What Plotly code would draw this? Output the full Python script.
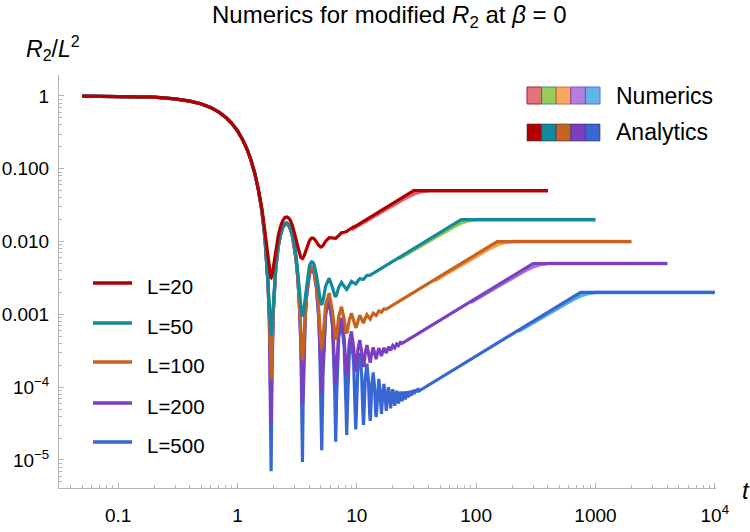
import plotly.graph_objects as go

# ---------------- data ----------------
# shared early part (all L coincide for t <= 1.5)
t_early = [0.05, 0.1, 0.2, 0.3, 0.4, 0.5, 0.6, 0.7, 0.8, 0.9, 1.0, 1.1, 1.2, 1.3, 1.4, 1.5]
r2_early = [0.9975, 0.990, 0.961, 0.913, 0.850, 0.775, 0.690, 0.599, 0.508, 0.418,
            0.333, 0.255, 0.188, 0.131, 0.0857, 0.0511]

t_L20 = [1.6, 1.7, 1.8, 1.85, 1.9, 1.916, 1.95, 2.0, 2.1, 2.2, 2.3, 2.4, 2.5, 2.6, 2.7, 2.8, 2.9,
         3.0, 3.1, 3.2, 3.3, 3.4, 3.508, 3.6, 3.7, 3.8, 3.9, 4.0, 4.1, 4.2, 4.3, 4.4, 4.6, 4.8,
         5.0, 5.087, 5.21, 5.49, 5.87, 6.26, 6.54, 6.662, 6.78, 7.06, 7.45, 7.84, 8.12, 8.235,
         8.64, 9.02, 9.41, 9.808, 30, 400]
r2_L20 = [0.0294, 0.0139, 0.00581, 0.00393, 0.00322, 0.00319, 0.00345, 0.00442, 0.00786, 0.0122,
          0.0162, 0.0195, 0.0214, 0.0217, 0.0209, 0.0190, 0.0163, 0.0135, 0.0108, 0.00855,
          0.00693, 0.00604, 0.00585, 0.00623, 0.00705, 0.00809, 0.00917, 0.0101, 0.0108, 0.0112,
          0.0112, 0.0109, 0.0099, 0.00887, 0.00841, 0.00848, 0.00881, 0.01014, 0.01135, 0.0111,
          0.01096, 0.0111, 0.01136, 0.01224, 0.01319, 0.01341, 0.01356, 0.01373, 0.01465,
          0.01546, 0.01588, 0.01635, 0.05, 0.05]

t_L50 = [1.6, 1.7, 1.8, 1.85, 1.9, 1.916, 1.95, 2.0, 2.1, 2.2, 2.3, 2.4, 2.5, 2.6, 2.7, 2.8, 2.9,
         3.0, 3.1, 3.2, 3.3, 3.4, 3.45, 3.508, 3.55, 3.6, 3.7, 3.8, 3.9, 4.0, 4.1, 4.2, 4.3, 4.4,
         4.6, 4.8, 4.9, 5.0, 5.087, 5.21, 5.49, 5.87, 6.26, 6.54, 6.662, 6.78, 7.06, 7.45, 7.84,
         8.12, 8.235, 8.35, 8.64, 9.02, 9.41, 9.69, 9.808, 10.21, 10.59, 10.98, 11.38, 11.78,
         12.17, 12.55, 12.952, 75, 1000]
r2_L50 = [0.0271, 0.01155, 0.00329, 0.00134, 0.000553, 0.000511, 0.000715, 0.00162, 0.00492,
          0.00909, 0.0130, 0.0161, 0.0179, 0.0181, 0.0171, 0.0151, 0.0123, 0.0093, 0.00648,
          0.00407, 0.00231, 0.00128, 0.00103, 0.000935, 0.000995, 0.00119, 0.00187, 0.00277,
          0.00371, 0.00451, 0.00505, 0.00528, 0.00517, 0.00477, 0.00346, 0.00215, 0.00163,
          0.00141, 0.00136, 0.00152, 0.00245, 0.00314, 0.00234, 0.0018, 0.00178, 0.00187,
          0.00235, 0.00276, 0.00243, 0.0022, 0.0022, 0.00226, 0.00255, 0.00284, 0.00271, 0.0026,
          0.00262, 0.00287, 0.00309, 0.00305, 0.00303, 0.00324, 0.00343, 0.00343, 0.00345,
          0.02, 0.02]

t_L100 = [1.6, 1.7, 1.8, 1.85, 1.9, 1.916, 1.95, 2.0, 2.1, 2.2, 2.3, 2.4, 2.5, 2.6, 2.7, 2.8, 2.9,
          3.0, 3.1, 3.2, 3.3, 3.4, 3.45, 3.508, 3.55, 3.6, 3.7, 3.8, 3.9, 4.0, 4.1, 4.2, 4.3, 4.4,
          4.6, 4.8, 4.9, 5.0, 5.087, 5.21, 5.49, 5.87, 6.26, 6.54, 6.662, 6.78, 7.06, 7.45, 7.84,
          8.12, 8.235, 8.35, 8.64, 9.02, 9.41, 9.69, 9.808, 9.93, 10.21, 10.59, 10.98, 11.26,
          11.38, 11.78, 12.17, 12.55, 12.952, 13.35, 13.74, 14.12, 14.523, 15.31, 16.095, 16.88,
          17.666, 150, 2000]
r2_L100 = [0.0268, 0.0112, 0.00293, 0.000973, 0.000173, 0.000128, 0.000325, 0.00122, 0.0045,
           0.00865, 0.01255, 0.01566, 0.01737, 0.01757, 0.01658, 0.01449, 0.01169, 0.0087,
           0.00586, 0.00343, 0.00165, 0.000597, 0.000339, 0.000234, 0.000285, 0.000468, 0.00113,
           0.00201, 0.00293, 0.00371, 0.00423, 0.00444, 0.00431, 0.00389, 0.00254, 0.00119,
           0.000647, 0.000409, 0.000339, 0.000475, 0.00136, 0.00196, 0.00109, 0.0005, 0.000444,
           0.00051, 0.000937, 0.00127, 0.000863, 0.000575, 0.000549, 0.000588, 0.00083, 0.00104,
           0.000824, 0.000666, 0.000654, 0.00068, 0.000835, 0.000974, 0.000856, 0.000764,
           0.000759, 0.000885, 0.000988, 0.00092, 0.000863, 0.000959, 0.00104, 0.000999,
           0.000968, 0.00111, 0.00107, 0.00119, 0.00118, 0.01, 0.01]

t_L200 = [1.6, 1.7, 1.8, 1.85, 1.9, 1.916, 1.95, 2.0, 2.1, 2.2, 2.3, 2.4, 2.5, 2.6, 2.7, 2.8, 2.9,
          3.0, 3.1, 3.2, 3.3, 3.4, 3.45, 3.508, 3.55, 3.6, 3.7, 3.8, 3.9, 4.0, 4.1, 4.2, 4.3, 4.4,
          4.6, 4.8, 4.9, 5.0, 5.087, 5.21, 5.49, 5.87, 6.26, 6.54, 6.662, 6.78, 7.06, 7.45, 7.84,
          8.12, 8.235, 8.35, 8.64, 9.02, 9.41, 9.69, 9.808, 9.93, 10.21, 10.59, 10.98, 11.26,
          11.38, 11.5, 11.78, 12.17, 12.55, 12.83, 12.952, 13.35, 13.74, 14.12, 14.523, 14.92,
          15.31, 15.69, 16.095, 16.88, 17.666, 18.45, 19.237, 20.02, 20.808, 21.59, 22.38,
          23.17, 23.95, 300, 4000]
r2_L200 = [0.0267, 0.0111, 0.00284, 0.000881, 0.000078, 0.0000319, 0.000228, 0.00112, 0.0044,
           0.00854, 0.01244, 0.01554, 0.01724, 0.01744, 0.01644, 0.01435, 0.01155, 0.00855,
           0.0057, 0.00327, 0.00148, 0.000427, 0.000167, 0.0000585, 0.000107, 0.000288,
           0.000942, 0.00182, 0.00274, 0.00351, 0.00403, 0.00423, 0.00409, 0.00367, 0.00231,
           0.00095, 0.000402, 0.000159, 0.0000848, 0.000215, 0.00108, 0.00167, 0.000774,
           0.000173, 0.000111, 0.000171, 0.000584, 0.000894, 0.000471, 0.000169, 0.000137,
           0.00017, 0.000398, 0.000584, 0.000354, 0.000182, 0.000163, 0.000184, 0.000324,
           0.000445, 0.000307, 0.000201, 0.00019, 0.000204, 0.000296, 0.00038, 0.000292,
           0.000222, 0.000216, 0.000292, 0.000352, 0.000293, 0.000242, 0.000298, 0.000344,
           0.000304, 0.000268, 0.000347, 0.000294, 0.000359, 0.000321, 0.000374, 0.000347,
           0.000392, 0.000373, 0.000412, 0.000399, 0.005, 0.005]

t_L500 = [1.6, 1.7, 1.8, 1.85, 1.9, 1.916, 1.95, 2.0, 2.1, 2.2, 2.3, 2.4, 2.5, 2.6, 2.7, 2.8, 2.9,
          3.0, 3.1, 3.2, 3.3, 3.4, 3.45, 3.508, 3.55, 3.6, 3.7, 3.8, 3.9, 4.0, 4.1, 4.2, 4.3, 4.4,
          4.6, 4.8, 4.9, 5.0, 5.087, 5.21, 5.49, 5.87, 6.26, 6.54, 6.662, 6.78, 7.06, 7.45, 7.84,
          8.12, 8.235, 8.35, 8.64, 9.02, 9.41, 9.69, 9.808, 9.93, 10.21, 10.59, 10.98, 11.26,
          11.38, 11.5, 11.78, 12.17, 12.55, 12.83, 12.952, 13.07, 13.35, 13.74, 14.12, 14.40,
          14.523, 14.64, 14.92, 15.31, 15.69, 15.98, 16.095, 16.49, 16.88, 17.27, 17.666, 18.06,
          18.45, 18.84, 19.237, 19.63, 20.02, 20.41, 20.808, 21.2, 21.59, 21.98, 22.38, 23.17,
          23.951, 24.74, 25.522, 26.31, 27.093, 27.88, 28.664, 29.45, 30.235, 31.02, 31.806,
          32.59, 33.377, 750, 10000]
r2_L500 = [0.0267, 0.0111, 0.00281, 0.00085, 0.000051, 0.000007, 0.0002, 0.00109, 0.00436, 0.0085,
           0.0124, 0.0155, 0.0172, 0.0174, 0.0164, 0.0143, 0.0115, 0.0085, 0.00566, 0.00323,
           0.00144, 0.000379, 0.000118, 0.0000094, 0.0000575, 0.000238, 0.00089, 0.00177,
           0.00268, 0.00345, 0.00397, 0.00417, 0.00403, 0.00361, 0.00224, 0.000883, 0.000333,
           0.000089, 0.0000136, 0.000142, 0.001, 0.00159, 0.000687, 0.000081, 0.0000178,
           0.000076, 0.000485, 0.00079, 0.000361, 0.0000557, 0.000022, 0.0000533, 0.000277,
           0.000458, 0.000222, 0.0000458, 0.0000262, 0.0000449, 0.000181, 0.000296, 0.000153,
           0.0000426, 0.0000303, 0.0000425, 0.000131, 0.00021, 0.000117, 0.0000427, 0.0000345,
           0.000043, 0.000105, 0.00016, 0.0000957, 0.0000444, 0.0000387, 0.0000447, 0.0000888,
           0.00013, 0.0000838, 0.000047, 0.0000429, 0.0000805, 0.000111, 0.0000779, 0.0000471,
           0.000076, 0.0001, 0.0000747, 0.0000513, 0.000074, 0.0000934, 0.0000737, 0.0000555,
           0.0000737, 0.0000892, 0.000074, 0.0000597, 0.0000874, 0.0000639, 0.000087,
           0.0000681, 0.0000877, 0.0000722, 0.000089, 0.0000764, 0.000091, 0.0000806,
           0.0000934, 0.0000848, 0.0000961, 0.000089, 0.002, 0.002]

# numerics (lighter curves): ramp -> rounded corner -> plateau
tn_L20 = [9, 18, 25.5, 30, 34.5, 40.5, 400]
rn_L20 = [0.0146, 0.0285, 0.0395, 0.045, 0.0485, 0.05, 0.05]
tn_L50 = [22.5, 45, 64, 75, 86, 101, 1000]
rn_L50 = [0.00582, 0.0114, 0.0158, 0.018, 0.0194, 0.02, 0.02]
tn_L100 = [45, 90, 128, 150, 172, 202, 2000]
rn_L100 = [0.00291, 0.0057, 0.0079, 0.009, 0.0097, 0.01, 0.01]
tn_L200 = [90, 180, 255, 300, 345, 405, 4000]
rn_L200 = [0.00146, 0.00285, 0.00395, 0.0045, 0.00485, 0.005, 0.005]
tn_L500 = [225, 450, 640, 750, 862, 1012, 10000]
rn_L500 = [0.000582, 0.00114, 0.00158, 0.0018, 0.00194, 0.002, 0.002]

labels = ["L=20", "L=50", "L=100", "L=200", "L=500"]
analytic_colors = ["#B00000", "#13899C", "#C8621F", "#7A40C0", "#3866D2"]
numeric_colors = ["#E2636F", "#8CC64C", "#F4A04E", "#AC72D8", "#52ADE4"]

x_tick_vals = [0.1, 1, 10, 100, 1000, 10000]
x_tick_text = ["0.1", "1", "10", "100", "1000", "10<sup>4</sup>"]
y_tick_vals = [1e-5, 1e-4, 1e-3, 1e-2, 1e-1, 1]
y_tick_text = ["10<sup>\u22125</sup>", "10<sup>\u22124</sup>", "0.001", "0.010", "0.100", "1"]

analytic_t = [t_L20, t_L50, t_L100, t_L200, t_L500]
analytic_r = [r2_L20, r2_L50, r2_L100, r2_L200, r2_L500]
numeric_t = [tn_L20, tn_L50, tn_L100, tn_L200, tn_L500]
numeric_r = [rn_L20, rn_L50, rn_L100, rn_L200, rn_L500]

# ---------------- figure ----------------
ML, MR, MT, MB = 59, 34, 75, 44
W, H = 750, 532
PW, PH = W - ML - MR, H - MT - MB


def px(x):
    return (x - ML) / PW


def py(y):
    return (H - MB - y) / PH


fig = go.Figure()

# numerics underneath
for i in reversed(range(5)):
    fig.add_trace(go.Scatter(x=numeric_t[i], y=numeric_r[i], mode="lines",
                             line=dict(color=numeric_colors[i], width=3.6),
                             showlegend=False, hoverinfo="skip"))
# analytics on top, L=20 last
for i in reversed(range(5)):
    fig.add_trace(go.Scatter(x=t_early + analytic_t[i], y=r2_early + analytic_r[i],
                             mode="lines", name=labels[i],
                             line=dict(color=analytic_colors[i], width=3.2),
                             showlegend=False))

x_minor = [m * 10.0 ** k for k in range(-2, 4) for m in range(2, 10)]
y_minor = [m * 10.0 ** k for k in range(-6, 0) for m in range(2, 10)]
axis_col = "#b4b4b4"

fig.update_xaxes(type="log", range=[-1.495, 4.01], showline=True, linecolor=axis_col,
                 linewidth=1, ticks="inside", ticklen=5, tickcolor=axis_col,
                 tickmode="array", tickvals=x_tick_vals, ticktext=x_tick_text,
                 tickfont=dict(size=19, color="black"), showgrid=False, zeroline=False,
                 ticklabelstandoff=10, automargin=False,
                 minor=dict(ticks="inside", ticklen=3, tickcolor=axis_col,
                            tickmode="array", tickvals=x_minor, showgrid=False))
fig.update_yaxes(type="log", range=[-5.385, 0.288], showline=True, linecolor=axis_col,
                 linewidth=1, ticks="inside", ticklen=5, tickcolor=axis_col,
                 tickmode="array", tickvals=y_tick_vals, ticktext=y_tick_text,
                 tickfont=dict(size=19, color="black"), showgrid=False, zeroline=False,
                 ticklabelstandoff=5, automargin=False,
                 minor=dict(ticks="inside", ticklen=3, tickcolor=axis_col,
                            tickmode="array", tickvals=y_minor, showgrid=False))

annotations = [
    dict(text="Numerics for modified <i>R</i><sub>2</sub> at <i>\u03b2</i> = 0",
         x=px(389), y=py(16), xref="paper", yref="paper", xanchor="center",
         yanchor="middle", showarrow=False, font=dict(size=24, color="black")),
    dict(text="<i>R</i><sub>2</sub>/<i>L</i><sup>2</sup>", x=px(24), y=py(48),
         xref="paper", yref="paper", xanchor="left", yanchor="middle", showarrow=False,
         font=dict(size=23, color="black")),
    dict(text="<i>t</i>", x=px(746), y=py(490), xref="paper", yref="paper",
         xanchor="center", yanchor="middle", showarrow=False,
         font=dict(size=24, color="black")),
    dict(text="Numerics", x=px(614), y=py(96), xref="paper", yref="paper",
         xanchor="left", yanchor="middle", showarrow=False, font=dict(size=23, color="black")),
    dict(text="Analytics", x=px(614), y=py(132), xref="paper", yref="paper",
         xanchor="left", yanchor="middle", showarrow=False, font=dict(size=23, color="black")),
]
shapes = []
sw = 14.6
for i in range(5):
    x0 = 527 + i * sw
    shapes.append(dict(type="rect", xref="paper", yref="paper", x0=px(x0), x1=px(x0 + sw),
                       y0=py(104), y1=py(87), fillcolor=numeric_colors[i],
                       line=dict(color=analytic_colors[i], width=1), opacity=0.9))
    shapes.append(dict(type="rect", xref="paper", yref="paper", x0=px(x0), x1=px(x0 + sw),
                       y0=py(141), y1=py(124), fillcolor=analytic_colors[i],
                       line=dict(color="#333355", width=0.6)))

leg_y = [283, 323, 362, 403, 442]
for i in range(5):
    shapes.append(dict(type="line", xref="paper", yref="paper", x0=px(93), x1=px(132),
                       y0=py(leg_y[i]), y1=py(leg_y[i]),
                       line=dict(color=analytic_colors[i], width=3.5)))
    annotations.append(dict(text=labels[i], x=px(145), y=py(leg_y[i] + 3), xref="paper",
                            yref="paper", xanchor="left", yanchor="middle", showarrow=False,
                            font=dict(size=20.5, color="black")))

fig.update_layout(width=W, height=H, margin=dict(l=ML, r=MR, t=MT, b=MB),
                  plot_bgcolor="white", paper_bgcolor="white",
                  font=dict(family="Liberation Sans, Arial, sans-serif", color="black"),
                  annotations=annotations, shapes=shapes, showlegend=False)

fig.write_html("out.html")
